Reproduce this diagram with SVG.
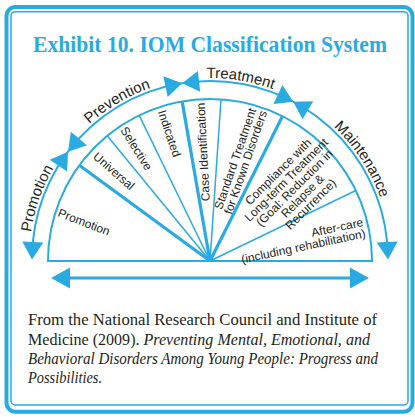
<svg xmlns="http://www.w3.org/2000/svg" width="415" height="417" viewBox="0 0 415 417">
<style>
.c{fill:none;stroke:#29ABE2}
.ah{fill:#29ABE2;stroke:none}
.lb{font-family:"Liberation Sans",Arial,sans-serif;font-size:12px;fill:#231F20}
.al{font-family:"Liberation Sans",Arial,sans-serif;font-size:15px;fill:#231F20}
.cap{font-family:"Liberation Serif","Times New Roman",serif;font-size:16px;fill:#231F20}
.it{font-style:italic}
</style>
<defs>
<path id="lblpath" d="M 29 259 A 181 181 0 0 1 391 259"/>
</defs>
<rect width="415" height="417" fill="#ffffff"/>
<g id="frame">
<rect class="c" x="6.5" y="7" width="406" height="404.7" rx="9" stroke-width="4"/>
<rect class="c" x="11" y="11.7" width="397" height="393.3" rx="4" stroke-width="1.5"/>
</g>
<text id="title" x="210" y="52" text-anchor="middle" textLength="354" lengthAdjust="spacingAndGlyphs" font-family="'Liberation Serif','Times New Roman',serif" font-weight="bold" font-size="23" fill="#29ABE2">Exhibit 10. IOM Classification System</text>
<g id="sectors">
<path class="c" stroke-width="2" d="M 48 261 A 162 162 0 0 1 372 261 Z"/>
<line class="c" stroke-width="3.2" x1="210" y1="261" x2="79.3" y2="165.3"/>
<line class="c" stroke-width="1.5" x1="210" y1="261" x2="107.2" y2="135.8"/>
<line class="c" stroke-width="1.5" x1="210" y1="261" x2="139.2" y2="115.3"/>
<line class="c" stroke-width="3.2" x1="210" y1="261" x2="182.1" y2="101.4"/>
<line class="c" stroke-width="1.5" x1="210" y1="261" x2="221.0" y2="99.4"/>
<line class="c" stroke-width="3.2" x1="210" y1="261" x2="282.5" y2="116.1"/>
<line class="c" stroke-width="1.5" x1="210" y1="261" x2="355.8" y2="190.5"/>
</g>
<g id="sector-labels">
<text class="lb" text-anchor="middle" dy="0.35em" transform="translate(84,222) rotate(21)">Promotion</text>
<text class="lb" text-anchor="middle" dy="0.35em" transform="translate(114,171) rotate(41)">Universal</text>
<text class="lb" text-anchor="middle" dy="0.35em" transform="translate(136.5,148.5) rotate(58)">Selective</text>
<text class="lb" text-anchor="middle" dy="0.35em" transform="translate(169.5,133.5) rotate(71.5)">Indicated</text>
<text class="lb" text-anchor="middle" dy="0.35em" transform="translate(203,152) rotate(-93)">Case Identification</text>
<text class="lb" text-anchor="middle" transform="translate(240.5,160.5) rotate(-71)"><tspan x="0" y="-1.5">Standard Treatment</tspan><tspan x="0" y="9.5">for Known Disorders</tspan></text>
<text class="lb" text-anchor="middle" transform="translate(294.5,188) rotate(-45)"><tspan x="0" y="-19">Compliance with</tspan><tspan x="0" y="-7.5">Long-term Treatment</tspan><tspan x="0" y="4">(Goal: Reduction in</tspan><tspan x="0" y="15.5">Relapse &amp;</tspan><tspan x="0" y="27">Recurrence)</tspan></text>
<text class="lb" text-anchor="end" transform="translate(363,222) rotate(-12)"><tspan x="0" y="4">After-care</tspan><tspan x="0" y="15.5">(including rehabilitation)</tspan></text>
</g>
<g id="connectors">
<path class="c" stroke-width="2" d="M 32.81 242.03 A 178 178 0 0 1 387.19 242.03"/>
<polygon class="ah" points="32,259.5 22.32,241.53 43.30,242.53"/>
<polygon class="ah" points="68.03,151.63 67.10,171.58 49.78,159.72"/>
<polygon class="ah" points="68.03,151.63 70.88,131.82 87.00,145.28"/>
<polygon class="ah" points="182.16,83.19 167.66,96.93 163.38,76.37"/>
<polygon class="ah" points="182.16,83.19 197.90,70.90 200.18,91.78"/>
<polygon class="ah" points="293.29,101.69 273.45,103.97 282.37,84.97"/>
<polygon class="ah" points="293.29,101.69 313.25,101.31 302.55,119.37"/>
<polygon class="ah" points="388,259.5 376.70,242.53 397.68,241.53"/>
<line class="c" stroke-width="3" x1="68" y1="278" x2="352" y2="278"/>
<polygon class="ah" points="51,278 70,267.5 70,288.5"/>
<polygon class="ah" points="369,278 350,267.5 350,288.5"/>
</g>
<g id="arc-labels">
<text class="al" text-anchor="middle"><textPath href="#lblpath" startOffset="61">Promotion</textPath></text>
<text class="al" text-anchor="middle"><textPath href="#lblpath" startOffset="188">Prevention</textPath></text>
<text class="al" text-anchor="middle"><textPath href="#lblpath" startOffset="314.6">Treatment</textPath></text>
<text class="al" text-anchor="middle"><textPath href="#lblpath" startOffset="463.4">Maintenance</textPath></text>
</g>
<g id="caption">
<text class="cap" x="28" y="325" textLength="349" lengthAdjust="spacingAndGlyphs">From the National Research Council and Institute of</text>
<text class="cap" x="28" y="344.5" textLength="342" lengthAdjust="spacingAndGlyphs">Medicine (2009). <tspan class="it">Preventing Mental, Emotional, and</tspan></text>
<text class="cap it" x="28" y="364" textLength="350" lengthAdjust="spacingAndGlyphs">Behavioral Disorders Among Young People: Progress and</text>
<text class="cap it" x="28" y="383" textLength="74" lengthAdjust="spacingAndGlyphs">Possibilities.</text>
</g>
</svg>
